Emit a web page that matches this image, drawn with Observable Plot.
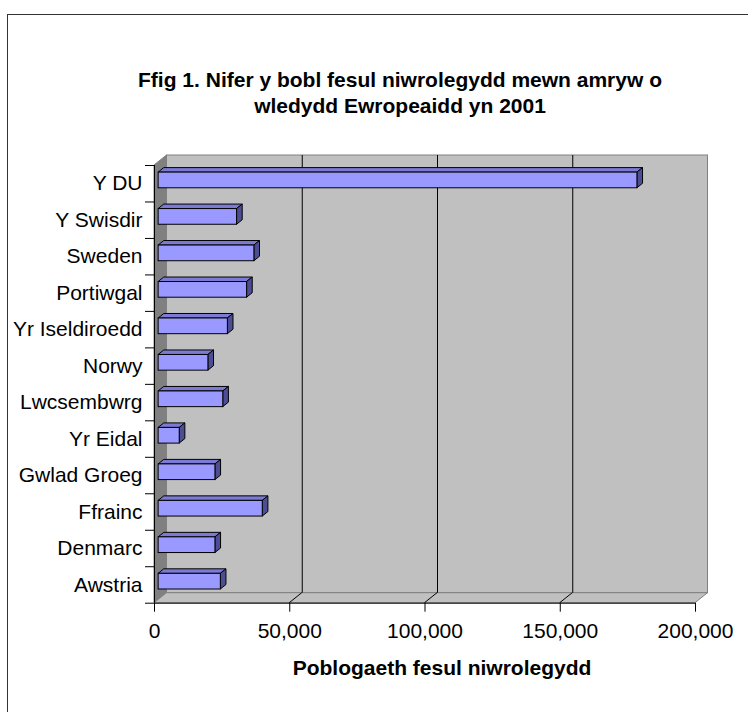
<!DOCTYPE html>
<html><head><meta charset="utf-8">
<script src="https://cdn.jsdelivr.net/npm/d3@7"></script>
<script src="https://cdn.jsdelivr.net/npm/@observablehq/plot@0.6"></script>
<style>
body{margin:0;background:#fff;}
#wrap{position:relative;width:748px;height:712px;overflow:hidden;}
#border{position:absolute;left:7px;top:14px;width:900px;height:900px;border-top:1.5px solid #333;border-left:1.5px solid #333;}
#chart{position:absolute;left:0;top:0;}
</style></head><body>
<div id="wrap"><div id="border"></div><div id="chart"></div></div>
<script>
const countries = ["Y DU","Y Swisdir","Sweden","Portiwgal","Yr Iseldiroedd","Norwy","Lwcsembwrg","Yr Eidal","Gwlad Groeg","Ffrainc","Denmarc","Awstria"];
const values = [177000, 29000, 35400, 32700, 25600, 18400, 23900, 7800, 21000, 38500, 21000, 23000];
const xTicks = [0, 50000, 100000, 150000, 200000];
const title = "Ffig 1. Nifer y bobl fesul niwrolegydd mewn amryw o\nwledydd Ewropeaidd yn 2001";
const xLabel = "Poblogaeth fesul niwrolegydd";

const data = countries.map((c, i) => ({country: c, value: values[i], i}));
const n = countries.length;
const xMax = xTicks[xTicks.length - 1];
const DX = 12.5, DY = -10;      // depth of the 3D box (px)
const F0 = 0.33, F1 = 0.78;     // bar depth (fraction of box depth)
const PAD = 0.285;              // gap above/below each bar (fraction of band)
const FS = 21;

const pts = a => a.map(p => p.join(",")).join(" ");

const walls = (index, {x, y}) => {
  const G = d3.create("svg:g");
  const x0 = x(0), x1 = x(xMax), yT = y(0), yB = y(n);
  G.append("rect").attr("x", x0 + DX).attr("y", yT + DY).attr("width", x1 - x0).attr("height", yB - yT)
    .attr("fill", "#c0c0c0").attr("stroke", "#808080");
  G.append("polygon").attr("points", pts([[x0, yT], [x0 + DX, yT + DY], [x0 + DX, yB + DY], [x0, yB]]))
    .attr("fill", "#808080").attr("stroke", "#808080");
  G.append("polygon").attr("points", pts([[x0, yB], [x1, yB], [x1 + DX, yB + DY], [x0 + DX, yB + DY]]))
    .attr("fill", "#c0c0c0").attr("stroke", "#808080");
  for (const t of xTicks.slice(1, -1)) {
    G.append("line").attr("x1", x(t)).attr("y1", yB).attr("x2", x(t) + DX).attr("y2", yB + DY).attr("stroke", "#000");
  }
  return G.node();
};

const barSides = (index, {x, y}) => {
  const G = d3.create("svg:g").attr("stroke", "#000").attr("stroke-width", 1).attr("stroke-linejoin", "round");
  const ox0 = F0 * DX, oy0 = F0 * DY, ox1 = F1 * DX, oy1 = F1 * DY;
  for (const d of data) {
    const xl = x(0), xr = x(d.value), yt = y(d.i + PAD), yb = y(d.i + 1 - PAD);
    G.append("polygon").attr("fill", "#7b7bd6")
      .attr("points", pts([[xl + ox0, yt + oy0], [xr + ox0, yt + oy0], [xr + ox1, yt + oy1], [xl + ox1, yt + oy1]]));
    G.append("polygon").attr("fill", "#4d4d94")
      .attr("points", pts([[xr + ox0, yt + oy0], [xr + ox1, yt + oy1], [xr + ox1, yb + oy1], [xr + ox0, yb + oy0]]));
  }
  return G.node();
};

const chart = Plot.plot({
  width: 748, height: 712,
  marginLeft: 154, marginRight: 53, marginTop: 165, marginBottom: 109.3,
  style: {fontFamily: "'Liberation Sans', Arial, sans-serif", fontSize: FS + "px", background: "transparent", color: "#000", overflow: "visible"},
  x: {domain: [0, xMax], label: null},
  y: {domain: [0, n], reverse: true, label: null},
  marks: [
    walls,
    Plot.ruleX(xTicks.slice(1, -1), {y1: 0, y2: n, dx: DX, dy: DY, stroke: "#000"}),
    barSides,
    Plot.rectX(data, {x1: 0, x2: "value", y1: d => d.i + PAD, y2: d => d.i + 1 - PAD, dx: F0 * DX, dy: F0 * DY,
      fill: "#9999ff", stroke: "#000", strokeWidth: 1}),
    Plot.ruleX([0], {y1: 0, y2: n, stroke: "#000"}),
    Plot.ruleY([n], {x1: 0, x2: xMax, stroke: "#000"}),
    Plot.axisX({ticks: xTicks, tickFormat: d3.format(","), tickSize: 9, tickPadding: 10.5, fontSize: FS, label: null}),
    Plot.axisY({ticks: d3.range(n + 1), tickSize: 9, tickFormat: () => "", label: null}),
    Plot.axisY({ticks: d3.range(n).map(i => i + 0.5), tickSize: 0, tickPadding: 12, fontSize: FS,
      tickFormat: v => countries[Math.floor(v)], label: null}),
    Plot.text([title], {frameAnchor: "top", dx: -25, dy: -74, fontWeight: "bold", fontSize: FS, lineHeight: 1.24, lineAnchor: "middle"}),
    Plot.text([xLabel], {frameAnchor: "bottom", dx: 17, dy: 65.5, fontWeight: "bold", fontSize: FS, lineAnchor: "middle"})
  ]
});
document.getElementById("chart").appendChild(chart);
</script>
</body></html>
